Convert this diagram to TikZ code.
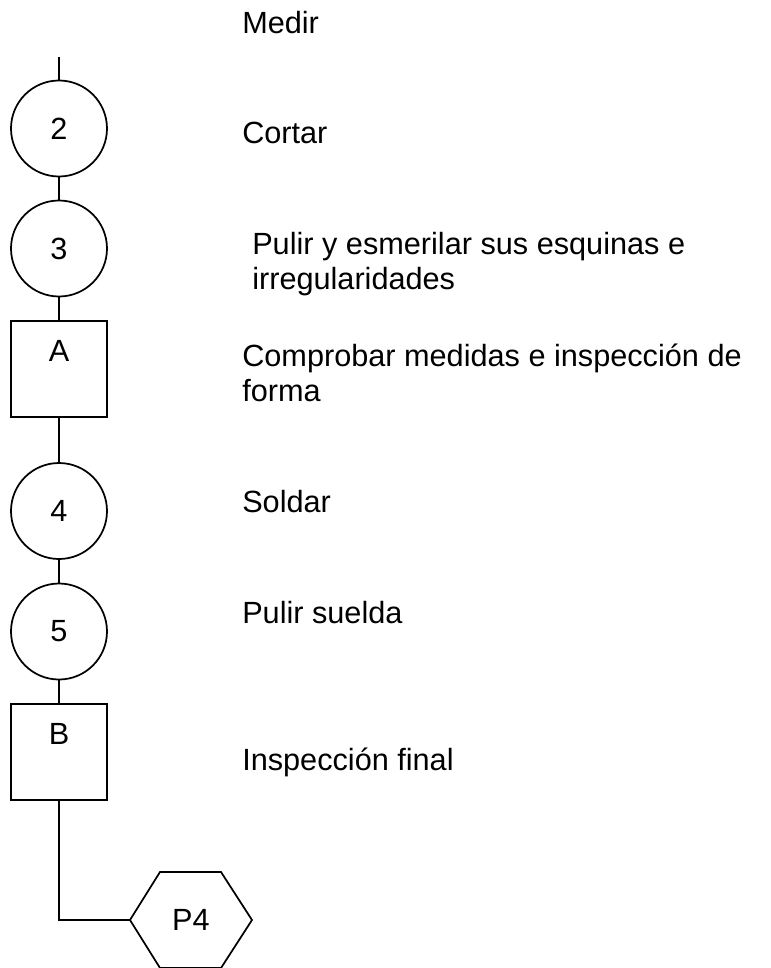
\documentclass[tikz,border=0pt]{standalone}
\usepackage{fontspec}
\setmainfont{Liberation Sans}
\usetikzlibrary{positioning}
\begin{document}
\begin{tikzpicture}[x=0.75pt,y=-0.75pt]
        \tikzset{every node/.style={font=\fontsize{23}{26}\selectfont},
                 op/.style={draw,circle,line width=1.3pt,minimum size=72pt,inner sep=0pt},
                 insp/.style={draw,rectangle,line width=1.3pt,minimum size=72pt,inner sep=0pt,
                              text height=30pt,text depth=42pt},
                 txt/.style={anchor=base west,inner sep=0pt,align=left}}
        \useasboundingbox (0,0) rectangle (771,968);
        \coordinate (T) at (59,57);
        \node[op] (C2) at (59,128.5) {2};
        \node[op] (C3) at (59,248.5) {3};
        \node[insp] (A) at (59,369) {A};
        \node[op] (C4) at (59,511) {4};
        \node[op] (C5) at (59,631.5) {5};
        \node[insp] (B) at (59,752) {B};
        \node (P4) at (191,920) {P4};
        \coordinate (H) at (130,920);
        \draw[line width=1.3pt] (H) -- (160,872) -- (221,872) -- (252,920) -- (221,968) -- (160,968) -- cycle;
        \draw[line width=1.3pt] (T) -- (C2);
        \draw[line width=1.3pt] (C2) -- (C3);
        \draw[line width=1.3pt] (C3) -- (A);
        \draw[line width=1.3pt] (A) -- (C4);
        \draw[line width=1.3pt] (C4) -- (C5);
        \draw[line width=1.3pt] (C5) -- (B);
        \draw[line width=1.3pt] (B) |- (H);
        \node[txt] (medir) at (242,33) {Medir};
        \node[txt] (cortar) at (242,143) {Cortar};
        \node[txt] (pulir) at (252,289) {Pulir y esmerilar sus esquinas e\\irregularidades};
        \node[txt] (comprobar) at (242,401) {Comprobar medidas e inspección de\\forma};
        \node[txt] (soldar) at (242,512) {Soldar};
        \node[txt] (suelda) at (242,623) {Pulir suelda};
        \node[txt] (final) at (242,770) {Inspección final};
    \end{tikzpicture}
\end{document}
